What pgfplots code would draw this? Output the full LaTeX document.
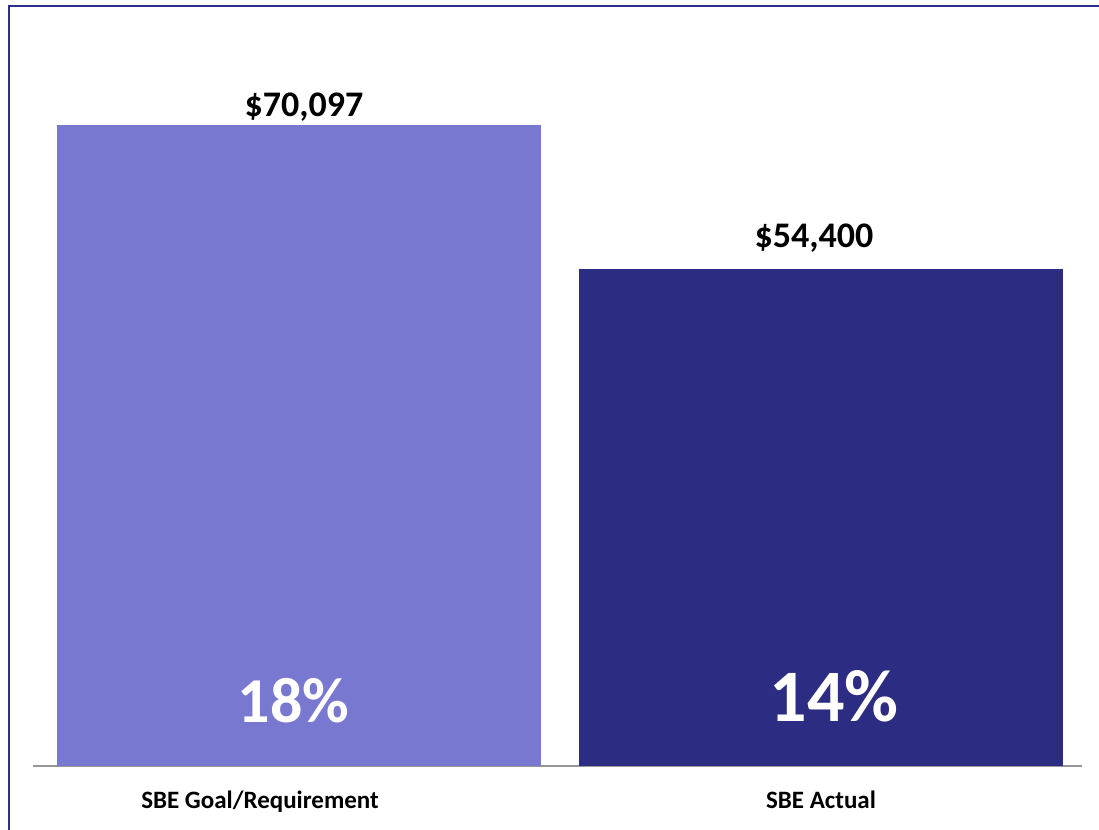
\documentclass[border=0pt]{standalone}
\usepackage{pgfplots}
\pgfplotsset{compat=1.18}
\usepackage{fontspec}
\setmainfont{Carlito}
\definecolor{goal}{RGB}{121,120,209}
\definecolor{actual}{RGB}{45,44,131}
\definecolor{framec}{RGB}{46,46,140}
\definecolor{axisgray}{RGB}{150,150,150}
\begin{document}
\begin{tikzpicture}[x=1pt,y=1pt]
\useasboundingbox (0,0) rectangle (1099,829);
\draw[framec, line width=2pt] (9,-5) -- (9,823) -- (1105,823);
\begin{axis}[
  at={(33pt,63pt)}, anchor=south west,
  scale only axis, width=1049pt, height=731.56pt,
  xmin=-0.5096, xmax=1.5, ymin=0, ymax=80000,
  axis x line=bottom, hide y axis,
  x axis line style={draw=axisgray, line width=2pt, -},
  xtick={0,1},
  xticklabels={{SBE Goal/Requirement\hspace*{78pt}}, {SBE Actual}},
  major tick length=0pt,
  xticklabel style={anchor=base, yshift=-42pt, font=\fontsize{25}{29}\selectfont\bfseries, text=black},
  ytick=\empty,
  ybar, bar width=484pt, bar shift=0pt,
  clip=false,
  /pgf/number format/fixed, /pgf/number format/precision=0,
  /pgf/number format/1000 sep={,}, /pgf/number format/assume math mode=true,
  nodes near coords={\$\pgfmathprintnumber{\pgfplotspointmeta}},
  every node near coord/.append style={anchor=base, font=\fontsize{36}{40}\selectfont\bfseries, text=black},
]
\addplot[fill=goal, draw=none, every node near coord/.append style={yshift=8pt, xshift=5pt}] coordinates {(0,70097)};
\addplot[fill=actual, draw=none, every node near coord/.append style={yshift=21.5pt, xshift=-7pt}] coordinates {(1,54400)};
\node[anchor=base, text=white, font=\fontsize{64}{70}\selectfont\bfseries, xshift=-5.5pt, yshift=43pt] at (axis cs:0,0) {18\%};
\node[anchor=base, text=white, font=\fontsize{74}{80}\selectfont\bfseries, xshift=13pt, yshift=44pt] at (axis cs:1,0) {14\%};
\end{axis}
\end{tikzpicture}
\end{document}
